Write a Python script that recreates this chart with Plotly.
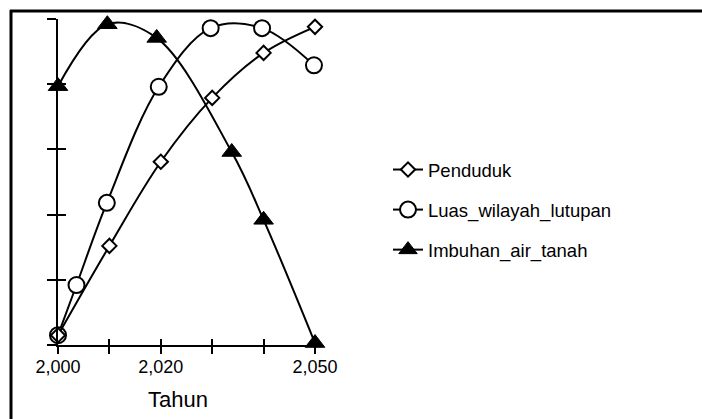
import plotly.graph_objects as go

# ---- data ----
pend_x = [2000, 2010, 2020, 2030, 2040, 2050]
pend_y = [0.15, 1.52, 2.81, 3.79, 4.48, 4.88]

luas_x = [2000, 2003.6, 2009.5, 2019.6, 2029.7, 2039.7, 2049.8]
luas_y = [0.15, 0.92, 2.18, 3.96, 4.86, 4.86, 4.29]

imb_x = [2000, 2009.6, 2019.2, 2033.8, 2040, 2050]
imb_y = [3.97, 4.92, 4.71, 2.96, 1.92, 0.03]

x_tickvals = [2000, 2010, 2020, 2030, 2040, 2050]
x_ticktext = ["2,000", "", "2,020", "", "", "2,050"]
y_tickvals = [0, 1, 2, 3, 4, 5]

W, H = 702, 419
L, R, T, B = 58, 387, 19, 74
pw, ph = W - L - R, H - T - B

def px_x(p):
    return (p - L) / pw

def px_y(p):
    return (H - B - p) / ph

FONT = "Liberation Sans, Arial, sans-serif"

fig = go.Figure()

line_style = dict(color="black", width=2, shape="spline", smoothing=1.0)

fig.add_trace(go.Scatter(
    x=luas_x, y=luas_y, name="Luas_wilayah_lutupan", mode="lines+markers",
    line=line_style, legendgroup="b", legendrank=2, cliponaxis=False,
    marker=dict(symbol="circle", size=16, color="white",
                line=dict(color="black", width=2))))
fig.add_trace(go.Scatter(
    x=pend_x, y=pend_y, name="Penduduk", mode="lines+markers",
    line=line_style, legendgroup="a", legendrank=1, cliponaxis=False,
    marker=dict(symbol="diamond", size=11, color="white",
                line=dict(color="black", width=2))))
fig.add_trace(go.Scatter(
    x=imb_x, y=imb_y, name="Imbuhan_air_tanah", mode="lines+markers",
    line=line_style, legendgroup="c", legendrank=3, cliponaxis=False,
    marker=dict(symbol="triangle-up", size=17, color="black",
                line=dict(color="black", width=1))))
# helper trace so the overlay axes (inner half of the crossing ticks) exist
fig.add_trace(go.Scatter(x=[], y=[], xaxis="x2", yaxis="y2",
                         showlegend=False, hoverinfo="skip"))

axis_common = dict(showgrid=False, zeroline=False, color="black")

fig.update_layout(
    width=W, height=H,
    margin=dict(l=L, r=R, t=T, b=B, pad=0),
    paper_bgcolor="white", plot_bgcolor="white",
    font=dict(family=FONT, color="black"),
    xaxis=dict(range=[2000, 2050], tickvals=x_tickvals, ticktext=x_ticktext,
               ticks="outside", ticklen=7, tickwidth=2, tickcolor="black",
               showline=True, linewidth=2, linecolor="black",
               tickfont=dict(size=18, family=FONT), ticklabelstandoff=-3,
               **axis_common),
    xaxis2=dict(range=[2000, 2050], tickvals=x_tickvals, overlaying="x",
                anchor="y", side="bottom", ticks="inside", ticklen=6,
                tickwidth=2, tickcolor="black", showticklabels=False,
                showline=False, **axis_common),
    yaxis=dict(range=[0, 5], tickvals=y_tickvals, showticklabels=False,
               ticks="outside", ticklen=9, tickwidth=2, tickcolor="black",
               showline=True, linewidth=2, linecolor="black", **axis_common),
    yaxis2=dict(range=[0, 5], tickvals=y_tickvals, overlaying="y",
                anchor="x", side="left", ticks="inside", ticklen=8,
                tickwidth=2, tickcolor="black", showticklabels=False,
                showline=False, **axis_common),
    legend=dict(x=px_x(388), y=px_y(151), xanchor="left", yanchor="top",
                font=dict(size=18.5, family=FONT), tracegroupgap=13,
                bgcolor="rgba(0,0,0,0)", traceorder="grouped"),
    showlegend=True,
    annotations=[
        dict(text="Tahun", xref="paper", yref="paper",
             x=px_x(178), y=px_y(399), xanchor="center", yanchor="middle",
             showarrow=False, font=dict(size=22, family=FONT)),
    ],
    shapes=[
        dict(type="line", xref="paper", yref="paper",
             x0=px_x(10), x1=px_x(702), y0=px_y(11), y1=px_y(11),
             line=dict(color="black", width=3)),
        dict(type="line", xref="paper", yref="paper",
             x0=px_x(11), x1=px_x(11), y0=px_y(10), y1=px_y(419),
             line=dict(color="black", width=3)),
    ],
)

fig.write_html("out.html", config={"displayModeBar": False},
               post_script="document.body.style.margin='0';")
